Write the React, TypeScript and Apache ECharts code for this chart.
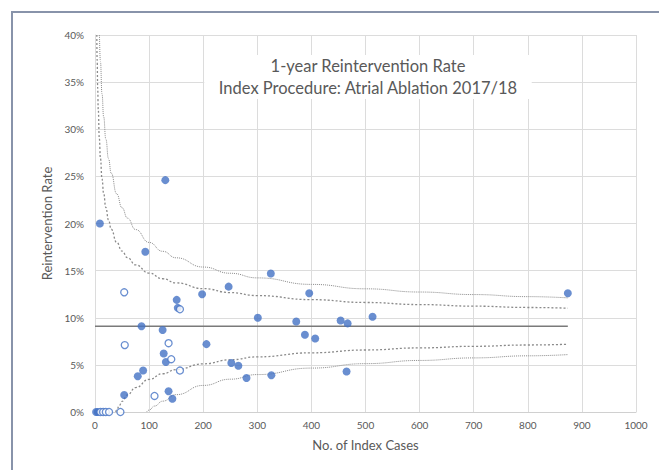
import React, { useEffect, useRef } from "react";
import * as echarts from "echarts";

const FONT = "Lato, 'Open Sans', sans-serif";
const TEXT_COLOR = "#595959";
const POINT_COLOR = "#4472C4";
const LIMIT_COLOR = "#8a8a8a";

// Units with at least one reintervention (filled markers)
const FILLED_CASES = [2, 5, 9, 130, 93, 325, 247, 198, 396, 874, 151, 153, 301, 372, 454, 467, 513, 86, 125, 388, 407, 206, 127, 131, 252, 265, 89, 79, 465, 326, 280, 54, 136, 143];
const FILLED_RATES = [0, 0, 20.0, 24.6, 17.0, 14.7, 13.3, 12.5, 12.6, 12.6, 11.9, 11.05, 10.0, 9.6, 9.7, 9.4, 10.1, 9.1, 8.7, 8.2, 7.8, 7.2, 6.2, 5.3, 5.2, 4.9, 4.4, 3.8, 4.3, 3.9, 3.6, 1.8, 2.2, 1.4];

// Units shown with hollow markers
const OPEN_CASES = [10, 15, 20, 26, 47, 54, 55, 136, 141, 157, 110, 157];
const OPEN_RATES = [0, 0, 0, 0, 0, 12.7, 7.1, 7.3, 5.6, 4.4, 1.7, 10.9];

// Overall rate
const MEAN_RATE = 9.1;
const MEAN_CASES = [0, 874];

// Control limits (95% inner, 99.8% outer)
const UPPER_95_CASES = [3.33, 4, 5, 6, 8, 10, 13, 16, 20, 25, 30, 40, 50, 60, 75, 100, 125, 150, 200, 250, 300, 400, 500, 600, 700, 800, 874];
const UPPER_95_RATES = [40.0, 37.29, 34.31, 32.11, 29.03, 26.93, 24.73, 23.19, 21.7, 20.37, 19.39, 18.01, 17.07, 16.38, 15.61, 14.74, 14.14, 13.7, 13.09, 12.67, 12.35, 11.92, 11.62, 11.4, 11.23, 11.09, 11.01];

const UPPER_998_CASES = [8.27, 10, 13, 16, 20, 25, 30, 40, 50, 60, 75, 100, 125, 150, 200, 250, 300, 400, 500, 600, 700, 800, 874];
const UPPER_998_RATES = [40.0, 37.2, 33.75, 31.32, 28.97, 26.87, 25.33, 23.15, 21.67, 20.57, 19.36, 17.99, 17.05, 16.36, 15.38, 14.72, 14.23, 13.54, 13.07, 12.73, 12.46, 12.24, 12.11];

const LOWER_95_CASES = [38.37, 40, 45, 50, 60, 75, 100, 125, 150, 200, 250, 300, 400, 500, 600, 700, 800, 874];
const LOWER_95_RATES = [0.0, 0.19, 0.7, 1.13, 1.82, 2.59, 3.46, 4.06, 4.5, 5.11, 5.54, 5.85, 6.28, 6.58, 6.8, 6.97, 7.11, 7.19];

const LOWER_998_CASES = [95.37, 100, 110, 125, 150, 200, 250, 300, 400, 500, 600, 700, 800, 874];
const LOWER_998_RATES = [0.0, 0.21, 0.63, 1.15, 1.84, 2.82, 3.48, 3.97, 4.66, 5.13, 5.47, 5.74, 5.96, 6.09];

const pairs = (xs: number[], ys: number[]) => xs.map((x, i) => [x, ys[i]]);

const limitLine = (name: string, xs: number[], ys: number[], dash: number[], width: number) => ({
  name,
  type: "line",
  data: pairs(xs, ys),
  showSymbol: false,
  symbol: "none",
  smooth: true,
  smoothMonotone: "x",
  silent: true,
  lineStyle: { color: LIMIT_COLOR, width, type: dash },
  z: 2,
});

export default function App() {
  const ref = useRef<HTMLDivElement>(null);

  useEffect(() => {
    if (!ref.current) return;
    const chart = echarts.init(ref.current, undefined, { renderer: "svg" });
    chart.setOption({
      animation: false,
      backgroundColor: "#ffffff",
      textStyle: { fontFamily: FONT },
      title: {
        text: "1-year Reintervention Rate\nIndex Procedure: Atrial Ablation 2017/18",
        left: 354,
        top: 55,
        textAlign: "center",
        backgroundColor: "#ffffff",
        padding: [0, 14, 0, 14],
        textStyle: {
          fontFamily: FONT,
          fontSize: 16.5,
          fontWeight: "normal",
          color: TEXT_COLOR,
          lineHeight: 22,
        },
      },
      graphic: [
        {
          type: "rect",
          shape: { x: 12, y: 12, width: 700, height: 520 },
          style: { fill: "none", stroke: "#8893aa", lineWidth: 2 },
          silent: true,
        },
      ],
      grid: { left: 95, right: 23, top: 35, bottom: 58 },
      xAxis: {
        type: "value",
        min: 0,
        max: 1000,
        interval: 100,
        name: "No. of Index Cases",
        nameLocation: "middle",
        nameGap: 26,
        nameTextStyle: { fontFamily: FONT, fontSize: 13, color: TEXT_COLOR },
        axisLine: { show: true, lineStyle: { color: "#d0d0d0", width: 1 } },
        axisTick: { show: false },
        axisLabel: {
          fontFamily: FONT,
          fontSize: 10,
          color: TEXT_COLOR,
          margin: 8,
          formatter: (v: number) => String(v),
        },
        splitLine: { show: true, lineStyle: { color: "#dcdcdc", width: 1 } },
      },
      yAxis: {
        type: "value",
        min: 0,
        max: 40,
        interval: 5,
        name: "Reintervention Rate",
        nameLocation: "middle",
        nameGap: 33,
        nameTextStyle: { fontFamily: FONT, fontSize: 13, color: TEXT_COLOR },
        axisLine: { show: true, lineStyle: { color: "#dcdcdc", width: 1 } },
        axisTick: { show: false },
        axisLabel: {
          fontFamily: FONT,
          fontSize: 10,
          color: TEXT_COLOR,
          margin: 11,
          formatter: (v: number) => `${v}%`,
        },
        splitLine: { show: true, lineStyle: { color: "#dcdcdc", width: 1 } },
      },
      series: [
        limitLine("Upper 99.8%", UPPER_998_CASES, UPPER_998_RATES, [1, 1], 1),
        limitLine("Upper 95%", UPPER_95_CASES, UPPER_95_RATES, [2, 2], 1.3),
        limitLine("Lower 95%", LOWER_95_CASES, LOWER_95_RATES, [2, 2], 1.3),
        limitLine("Lower 99.8%", LOWER_998_CASES, LOWER_998_RATES, [1, 1], 1),
        {
          name: "Mean",
          type: "line",
          data: MEAN_CASES.map((x) => [x, MEAN_RATE]),
          showSymbol: false,
          symbol: "none",
          silent: true,
          lineStyle: { color: "#7a7a7a", width: 1.5 },
          z: 2,
        },
        {
          name: "Units",
          type: "scatter",
          data: pairs(FILLED_CASES, FILLED_RATES),
          symbol: "circle",
          symbolSize: 8,
          itemStyle: { color: POINT_COLOR },
          z: 4,
        },
        {
          name: "Units (hollow)",
          type: "scatter",
          data: pairs(OPEN_CASES, OPEN_RATES),
          symbol: "circle",
          symbolSize: 7,
          itemStyle: { color: "#ffffff", borderColor: POINT_COLOR, borderWidth: 1.3 },
          z: 5,
        },
      ],
    });
    return () => chart.dispose();
  }, []);

  return (
    <div
      ref={ref}
      style={{ position: "absolute", left: 0, top: 0, width: 659, height: 470 }}
    />
  );
}
